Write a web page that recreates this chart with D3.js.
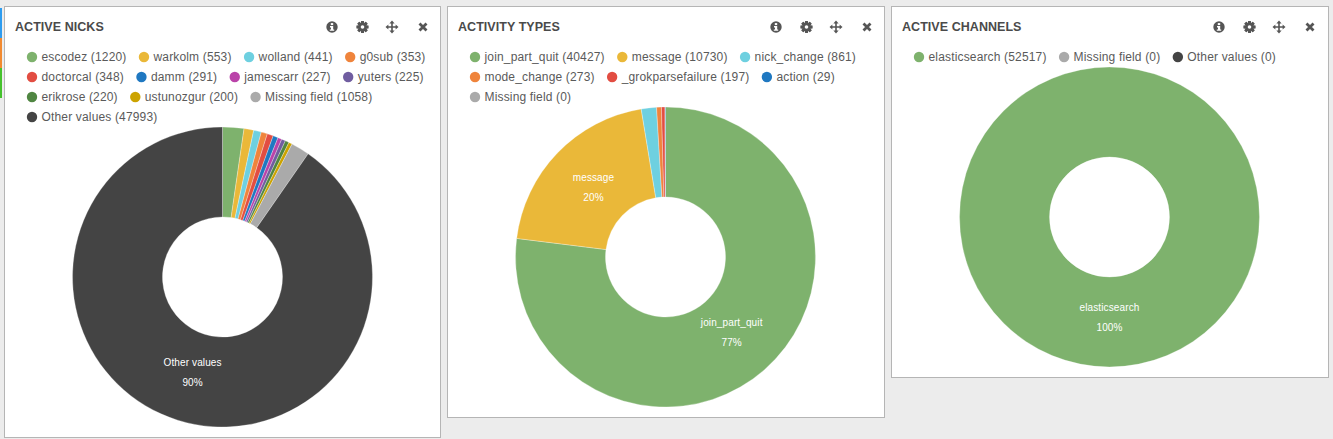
<!DOCTYPE html>
<html><head><meta charset="utf-8">
<script src="https://cdn.jsdelivr.net/npm/d3@7"></script>
<style>
html,body{margin:0;padding:0;background:#ececec;overflow:hidden}
svg{display:block}
text{font-family:"Liberation Sans",Arial,sans-serif}
</style></head><body>
<svg id="c" width="1333" height="439"></svg>
<script>
const nickNames=["escodez","warkolm","wolland","g0sub","doctorcal","damm","jamescarr","yuters","erikrose","ustunozgur","Missing field","Other values"];
const nickCounts=[1220,553,441,353,348,291,227,225,220,200,1058,47993];
const nickColors=["#7eb26d","#eab839","#6ed0e0","#ef843c","#e24d42","#1f78c1","#ba43a9","#705da0","#508642","#cca300","#aaaaaa","#444444"];
const typeNames=["join_part_quit","message","nick_change","mode_change","_grokparsefailure","action","Missing field"];
const typeCounts=[40427,10730,861,273,197,29,0];
const typeColors=["#7eb26d","#eab839","#6ed0e0","#ef843c","#e24d42","#1f78c1","#aaaaaa"];
const chanNames=["elasticsearch","Missing field","Other values"];
const chanCounts=[52517,0,0];
const chanColors=["#7eb26d","#aaaaaa","#444444"];
const nickLabels=["Other values"];
const typeLabels=["join_part_quit","message"];
const chanLabels=["elasticsearch"];
const stripColors=["#2d9cf0","#f28a30","#45c22d"];

const svg=d3.select("#c");
stripColors.forEach((c,i)=>svg.append("rect").attr("x",0).attr("y",8+i*30).attr("width",2).attr("height",30).attr("fill",c));

function icons(g,dx){
  const col="#555";
  const info=g.append("g").attr("transform",`translate(${328+dx},21)`);
  info.append("circle").attr("r",5.7).attr("fill",col);
  info.append("rect").attr("x",-1.2).attr("y",-3.9).attr("width",2.4).attr("height",2).attr("fill","#fff");
  info.append("path").attr("d","M-2-1H1.2V2.4H2.2V3.8H-2.2V2.4H-1V.4H-2Z").attr("fill","#fff");
  const gear=g.append("g").attr("transform",`translate(${358.5+dx},21)`);
  d3.range(8).forEach(i=>gear.append("rect").attr("x",-1.4).attr("y",-5.9).attr("width",2.8).attr("height",11.8).attr("fill",col).attr("transform",`rotate(${i*45})`));
  gear.append("circle").attr("r",4.4).attr("fill",col);
  gear.append("circle").attr("r",1.8).attr("fill","#fff");
  const mv=g.append("g").attr("transform",`translate(${388+dx},21)`);
  mv.append("path").attr("d","M-.8-4H.8V-.8H4V.8H.8V4H-.8V.8H-4V-.8H-.8Z").attr("fill",col);
  [0,90,180,270].forEach(r=>mv.append("path").attr("d","M0-6.5L2.6-3.6H-2.6Z").attr("fill",col).attr("transform",`rotate(${r})`));
  g.append("path").attr("transform",`translate(${419+dx},21)`).attr("d","M-3.5-3.5L3.5 3.5M3.5-3.5L-3.5 3.5").attr("stroke",col).attr("stroke-width",2.8).attr("fill","none");
}

function legend(g,names,counts,colors,x0){
  const right=427; let x=x0, y=51;
  names.forEach((n,i)=>{
    const it=g.append("g");
    it.append("circle").attr("cx",5).attr("r",5.2).attr("fill",colors[i]);
    const t=it.append("text").attr("x",14.5).attr("dy","0.35em").attr("font-size",12).attr("letter-spacing",.16).attr("fill","#5a5a5a").text(`${n} (${counts[i]})`);
    const w=14.5+t.node().getComputedTextLength();
    if(x+w>right && x>x0){x=x0;y+=20;}
    it.attr("transform",`translate(${x},${y})`);
    x+=w+12.5;
  });
}

function panel(o){
  const g=svg.append("g").attr("transform",`translate(${o.x},6)`);
  g.append("rect").attr("x",.5).attr("y",.5).attr("width",o.w-1).attr("height",o.h-1).attr("fill","#fff").attr("stroke","#b5b5b5");
  g.append("text").attr("x",11).attr("y",25).attr("font-size",12.5).attr("font-weight","bold").attr("letter-spacing",.05).attr("fill","#4a4a4a").text(o.title);
  icons(g,o.idx);
  legend(g,o.names,o.counts,o.colors,o.lx);
  const c=g.append("g").attr("transform",`translate(${o.cx-o.x},${o.cy-6})`);
  const pie=d3.pie().sort(null).value(d=>d.v);
  const data=o.names.map((n,i)=>({n,v:o.counts[i],col:o.colors[i]}));
  const arcs=pie(data);
  const arc=d3.arc().innerRadius(60).outerRadius(150);
  c.selectAll("path").data(arcs.filter(d=>d.data.v>0)).join("path").attr("d",arc).attr("fill",d=>d.data.col).attr("stroke","#fff").attr("stroke-width",.3);
  const total=d3.sum(o.counts);
  const la=d3.arc().innerRadius(100).outerRadius(100);
  arcs.filter(d=>o.labels.includes(d.data.n)).forEach(d=>{
    const [lx,ly]=la.centroid(d);
    const t=c.append("text").attr("text-anchor","middle").attr("font-size",10).attr("letter-spacing",.12).attr("fill","#fff");
    t.append("tspan").attr("x",lx).attr("y",ly-6.2).text(d.data.n);
    t.append("tspan").attr("x",lx).attr("y",ly+13.8).text(Math.round(d.data.v/total*100)+"%");
  });
}

panel({x:4,w:437,h:432,idx:0,title:"ACTIVE NICKS",names:nickNames,counts:nickCounts,colors:nickColors,labels:nickLabels,lx:23,cx:222.5,cy:277});
panel({x:447,w:438,h:412,idx:1,title:"ACTIVITY TYPES",names:typeNames,counts:typeCounts,colors:typeColors,labels:typeLabels,lx:23,cx:665.5,cy:257});
panel({x:891,w:438,h:372,idx:0,title:"ACTIVE CHANNELS",names:chanNames,counts:chanCounts,colors:chanColors,labels:chanLabels,lx:23,cx:1109.5,cy:217});
</script>
</body></html>
